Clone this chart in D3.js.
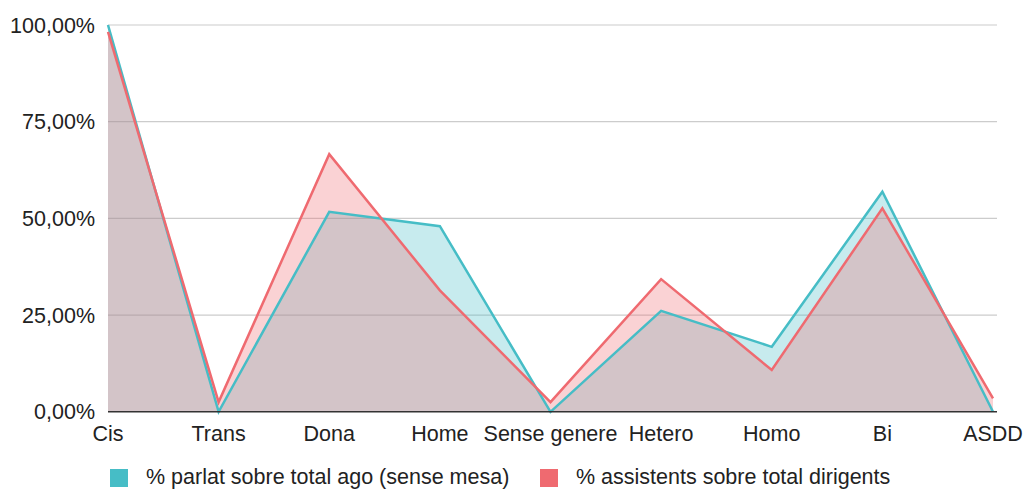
<!DOCTYPE html>
<html><head><meta charset="utf-8">
<script src="https://cdn.jsdelivr.net/npm/d3@7"></script>
<style>body{margin:0;background:#fff;} text{font-family:"Liberation Sans", Arial, sans-serif;}</style>
</head><body>
<svg id="c" width="1026" height="489"></svg>
<script>
const categories = ["Cis","Trans","Dona","Home","Sense genere","Hetero","Homo","Bi","ASDD"];
const seriesNames = ["% parlat sobre total ago (sense mesa)","% assistents sobre total dirigents"];
const parlat = [100, 0, 51.7, 48.0, 0, 26.1, 16.8, 56.9, 0];
const assistents = [98.2, 2.5, 66.6, 31.4, 2.5, 34.3, 10.8, 52.6, 3.5];
const yTicks = [0, 25, 50, 75, 100];
const colors = ["#46bdc6", "#ef6a70"];

const svg = d3.select("#c");
const x = d3.scalePoint().domain(categories).range([108, 993]);
const y = d3.scaleLinear().domain([0, 100]).range([411.8, 25]);
const fmt = v => d3.format(".2f")(v).replace(".", ",") + "%";
const FS = 21.5;

// gridlines
svg.append("g").selectAll("line").data(yTicks.filter(t => t > 0)).join("line")
  .attr("x1", 108).attr("x2", 997).attr("y1", d => y(d)).attr("y2", d => y(d))
  .attr("stroke", "#cccccc").attr("stroke-width", 1.2);

// y labels
svg.append("g").selectAll("text").data(yTicks).join("text")
  .attr("x", 95).attr("y", d => y(d) + 7.5).attr("text-anchor", "end")
  .attr("font-size", FS).attr("fill", "#222").text(fmt);

const series = [parlat, assistents];
const area = d3.area().x((d, i) => x(categories[i])).y0(y(0)).y1(d => y(d));
const line = d3.line().x((d, i) => x(categories[i])).y(d => y(d));

series.forEach((s, k) => {
  svg.append("path").datum(s).attr("d", area).attr("fill", colors[k]).attr("fill-opacity", 0.3);
});
series.forEach((s, k) => {
  svg.append("path").datum(s).attr("d", line).attr("fill", "none")
    .attr("stroke", colors[k]).attr("stroke-width", 2.5).attr("stroke-linejoin", "miter");
});

// baseline
svg.append("line").attr("x1", 108).attr("x2", 997).attr("y1", y(0)).attr("y2", y(0))
  .attr("stroke", "#333").attr("stroke-width", 1.5);

// x labels
svg.append("g").selectAll("text").data(categories).join("text")
  .attr("x", d => x(d)).attr("y", 441).attr("text-anchor", "middle")
  .attr("font-size", FS).attr("fill", "#222").text(d => d);

// legend
const legX = [110, 540];
const lg = svg.append("g").selectAll("g").data(seriesNames).join("g")
  .attr("transform", (d, i) => `translate(${legX[i]},469)`);
lg.append("rect").attr("width", 18).attr("height", 18).attr("fill", (d, i) => colors[i]);
lg.append("text").attr("x", 36).attr("y", 15).attr("font-size", FS).attr("fill", "#222").text(d => d);
</script>
</body></html>
